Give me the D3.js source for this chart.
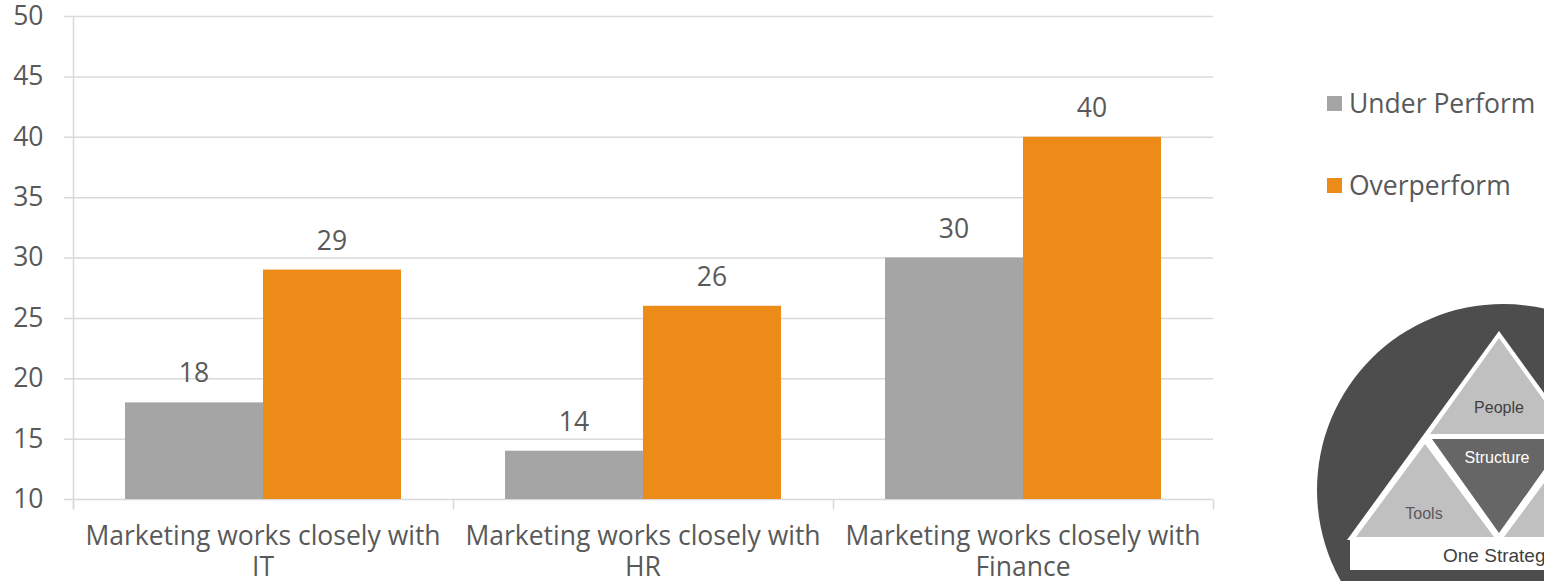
<!DOCTYPE html>
<html>
<head>
<meta charset="utf-8">
<script src="https://cdn.jsdelivr.net/npm/d3@7"></script>
<style>
  body { margin: 0; background: #fff; }
  svg { display: block; }
</style>
</head>
<body>
<script>
// chart data
let categories = ["Marketing works closely with IT", "Marketing works closely with HR", "Marketing works closely with Finance"];
let catLines = [["Marketing works closely with", "IT"], ["Marketing works closely with", "HR"], ["Marketing works closely with", "Finance"]];
let seriesNames = ["Under Perform", "Overperform"];
let underPerform = [18, 14, 30];
let overPerform = [29, 26, 40];
let yTicks = [10, 15, 20, 25, 30, 35, 40, 45, 50];

let width = 1544;
let height = 581;
let plot = { left: 73, right: 1213, top: 16, bottom: 499 };
let colors = ["#a5a5a5", "#ed8b19"];
let textColor = "#595959";
let gridColor = "#d9d9d9";
let font = "'Open Sans', sans-serif";
let fs = "26.5px";

let data = categories.map((c, i) => ({ cat: c, values: [underPerform[i], overPerform[i]] }));

let svg = d3.select("body").append("svg")
    .attr("width", width)
    .attr("height", height);

let x0 = d3.scaleBand()
    .domain(categories)
    .range([plot.left, plot.right])
    .padding(0);
let x1 = d3.scaleBand()
    .domain(seriesNames)
    .range([0, x0.bandwidth()])
    .paddingInner(0)
    .paddingOuter(0.377);
let y = d3.scaleLinear()
    .domain([10, 50])
    .range([plot.bottom, plot.top]);

// gridlines
svg.append("g")
    .selectAll("line")
    .data(yTicks)
    .join("line")
    .attr("x1", plot.left - 9)
    .attr("x2", plot.right)
    .attr("y1", d => y(d) + 0.5)
    .attr("y2", d => y(d) + 0.5)
    .attr("stroke", gridColor)
    .attr("stroke-width", 1.5);

// y axis
let yAxis = svg.append("g")
    .attr("transform", "translate(" + (plot.left + 0.5) + ",0)")
    .call(d3.axisLeft(y).tickValues(yTicks).tickSize(0).tickPadding(30));
yAxis.select(".domain")
    .attr("d", "M0," + plot.top + "V" + (plot.bottom + 10))
    .attr("stroke", gridColor)
    .attr("stroke-width", 1.5);
yAxis.selectAll("text")
    .attr("fill", textColor)
    .style("font-size", fs)
    .style("font-family", font);

// x axis
let xAxis = svg.append("g")
    .attr("transform", "translate(0," + (plot.bottom + 0.5) + ")");
xAxis.selectAll("line")
    .data(d3.range(categories.length + 1))
    .join("line")
    .attr("x1", i => plot.left + i * x0.step() + 0.5)
    .attr("x2", i => plot.left + i * x0.step() + 0.5)
    .attr("y1", 0)
    .attr("y2", 10)
    .attr("stroke", gridColor)
    .attr("stroke-width", 1.5);

let catLabels = svg.append("g")
    .selectAll("text")
    .data(data)
    .join("text")
    .attr("x", (d) => x0(d.cat) + x0.bandwidth() / 2)
    .attr("y", 545)
    .attr("text-anchor", "middle")
    .attr("fill", textColor)
    .style("font-size", fs)
    .style("font-family", font);
catLabels.selectAll("tspan")
    .data((d, i) => catLines[i].map(t => ({ t: t, x: x0(d.cat) + x0.bandwidth() / 2 })))
    .join("tspan")
    .attr("x", d => d.x)
    .attr("dy", (d, i) => i === 0 ? 0 : 31)
    .text(d => d.t);

// bars
let groups = svg.append("g")
    .selectAll("g")
    .data(data)
    .join("g")
    .attr("transform", d => "translate(" + x0(d.cat) + ",0)");

groups.selectAll("rect")
    .data(d => d.values.map((v, i) => ({ key: seriesNames[i], value: v, i: i })))
    .join("rect")
    .attr("x", d => x1(d.key))
    .attr("y", d => y(d.value))
    .attr("width", x1.bandwidth())
    .attr("height", d => y(10) - y(d.value))
    .attr("fill", d => colors[d.i]);

groups.selectAll("text")
    .data(d => d.values.map((v, i) => ({ key: seriesNames[i], value: v, i: i })))
    .join("text")
    .attr("x", d => x1(d.key) + x1.bandwidth() / 2)
    .attr("y", d => y(d.value) - 20)
    .attr("text-anchor", "middle")
    .attr("fill", textColor)
    .style("font-size", fs)
    .style("font-family", font)
    .text(d => d.value);

// legend
let legend = svg.append("g")
    .attr("class", "legend");
legend.selectAll("rect")
    .data(seriesNames)
    .join("rect")
    .attr("x", 1327)
    .attr("y", (d, i) => 96 + i * 82)
    .attr("width", 15)
    .attr("height", 15)
    .attr("fill", (d, i) => colors[i]);
legend.selectAll("text")
    .data(seriesNames)
    .join("text")
    .attr("x", 1349)
    .attr("y", (d, i) => 113 + i * 82)
    .attr("fill", textColor)
    .style("font-size", fs)
    .style("font-family", font)
    .text(d => d);

// logo badge in the corner
let logo = svg.append("g").attr("class", "logo");
let lf = "'Liberation Sans', Arial, sans-serif";
logo.append("circle")
    .attr("cx", 1503).attr("cy", 490).attr("r", 186)
    .attr("fill", "#4d4d4d");
logo.append("polygon")
    .attr("points", "1499,331 1347,540 1651,540")
    .attr("fill", "#ffffff");
let tri = [
    { pts: [[1499, 338], [1430, 434], [1568, 434]], fill: "#c0c0c0" },
    { pts: [[1425, 444], [1356, 537], [1494, 537]], fill: "#c0c0c0" },
    { pts: [[1573, 444], [1504, 537], [1642, 537]], fill: "#c0c0c0" },
    { pts: [[1432, 439], [1566, 439], [1499, 533]], fill: "#666666" }
];
logo.selectAll("polygon.part")
    .data(tri)
    .join("polygon")
    .attr("class", "part")
    .attr("points", d => d.pts.map(p => p.join(",")).join(" "))
    .attr("fill", d => d.fill);
logo.append("rect")
    .attr("x", 1350).attr("y", 537).attr("width", 300).attr("height", 33)
    .attr("fill", "#ffffff");
let logoText = [
    { t: "People", x: 1499, y: 413, c: "#404040" },
    { t: "Structure", x: 1497, y: 463, c: "#ffffff" },
    { t: "Tools", x: 1424, y: 519, c: "#595959" },
    { t: "Process", x: 1573, y: 519, c: "#595959" },
    { t: "One Strategy", x: 1499, y: 562, c: "#404040" }
];
logo.selectAll("text")
    .data(logoText)
    .join("text")
    .attr("x", d => d.x)
    .attr("y", d => d.y)
    .attr("text-anchor", "middle")
    .attr("fill", d => d.c)
    .style("font-size", (d, i) => i === 4 ? "19px" : "16px")
    .style("font-family", lf)
    .text(d => d.t);
</script>
</body>
</html>
